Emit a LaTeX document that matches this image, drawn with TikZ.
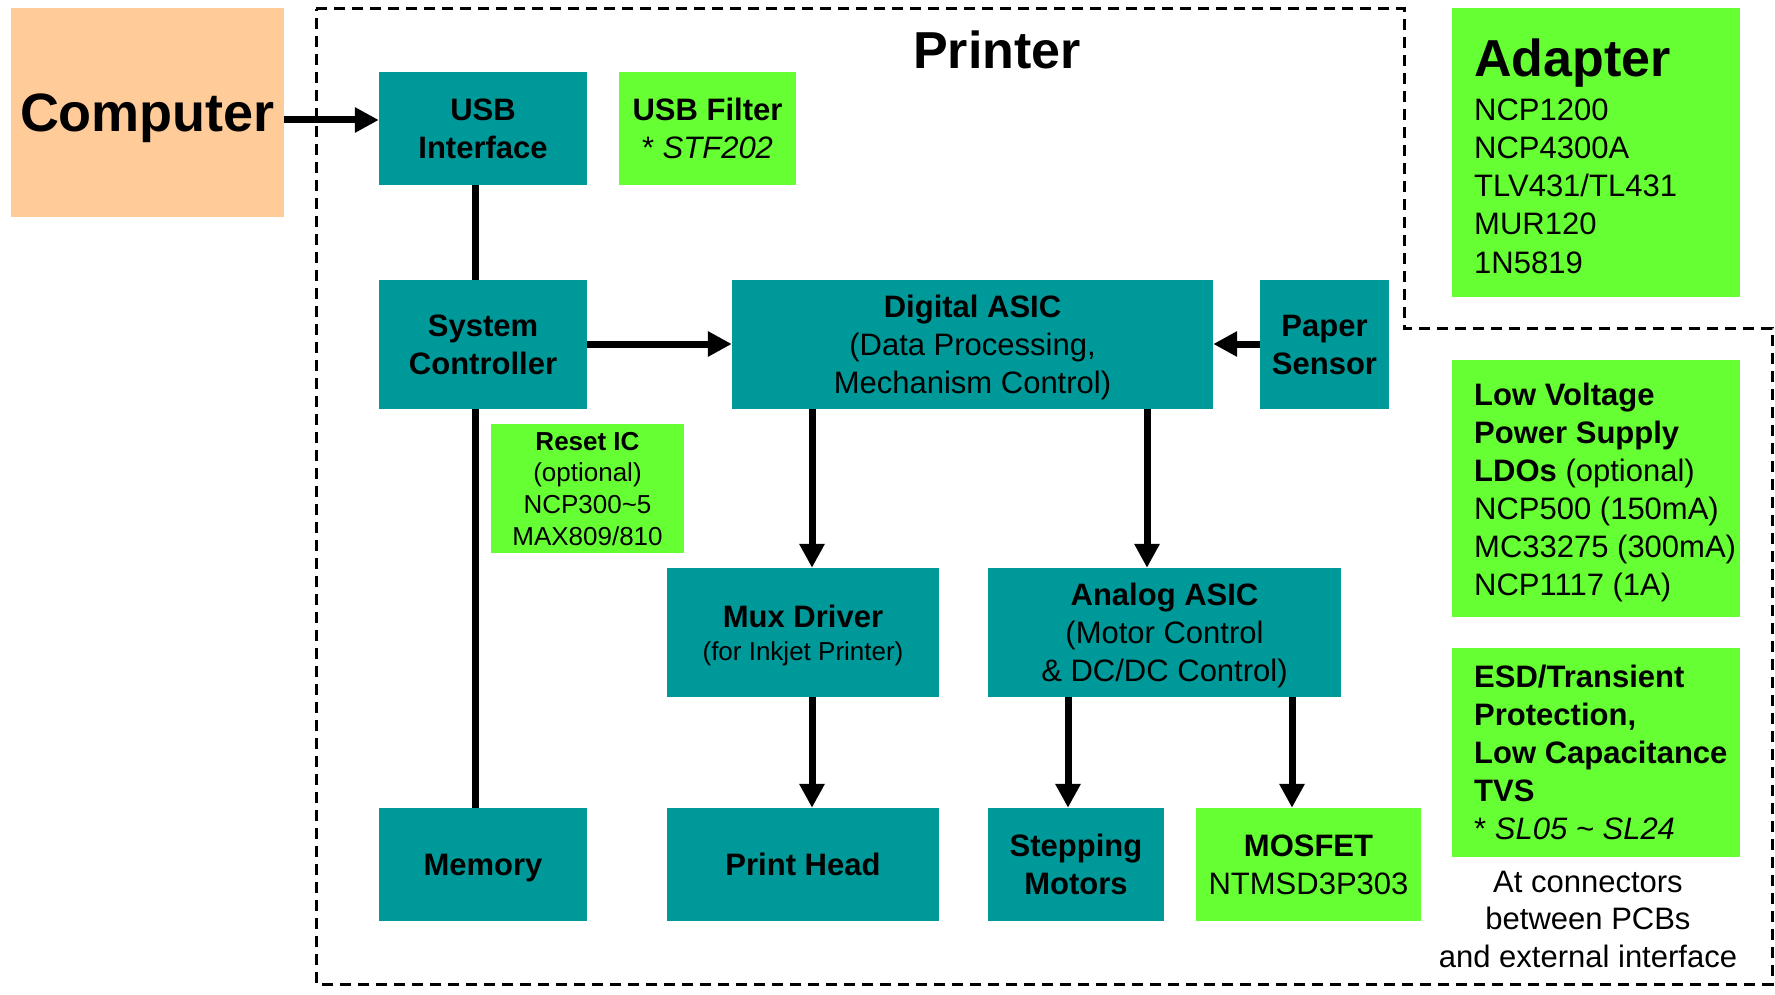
\documentclass[tikz,border=0pt]{standalone}
\usepackage{fontspec}
\setmainfont{Liberation Sans}
\usetikzlibrary{arrows.meta}
\definecolor{tealc}{HTML}{009999}
\definecolor{greenc}{HTML}{66FF33}
\definecolor{peachc}{HTML}{FFCC99}
\newcommand{\myfs}[2]{\fontsize{#1}{#2}\selectfont}
\tikzset{
  tealbox/.style={fill=tealc, draw=none, inner sep=0pt, align=center, text depth=0pt, font=\myfs{31}{38}},
  greenbox/.style={fill=greenc, draw=none, inner sep=0pt, align=center, text depth=0pt, font=\myfs{31}{38}},
  peachbox/.style={fill=peachc, draw=none, inner sep=0pt, align=center, text depth=0pt},
  conn/.style={line width=7pt},
  arr/.style={line width=7pt, -{Triangle[length=24pt,width=24pt]}},
  frame/.style={line width=3pt, dash pattern=on 11pt off 7pt},
  lefttext/.style={anchor=base west, align=left, inner sep=0pt, font=\myfs{31}{38}},
}
\begin{document}
\begin{tikzpicture}[x=1pt,y=-1pt]
\useasboundingbox (0,0) rectangle (1775,995);

% printer frame
\draw[frame] (316,9) -- (1404,9) -- (1404,328) -- (1772,328) -- (1772,984) -- (316,984) -- cycle;

% boxes
\node[peachbox, minimum width=273pt, minimum height=209pt, font=\myfs{54}{60}\bfseries] (comp) at (147.5,112.5) {Computer};
\node[tealbox, minimum width=208pt, minimum height=113pt] (usb) at (483,128.5) {\textbf{USB}\\\textbf{Interface}};
\node[greenbox, minimum width=177pt, minimum height=113pt] (filt) at (707.5,128.5) {\textbf{USB Filter}\\* \textit{STF202}};
\node[tealbox, minimum width=208pt, minimum height=129pt] (sys) at (483,344.5) {\textbf{System}\\\textbf{Controller}};
\node[tealbox, minimum width=481pt, minimum height=129pt] (dig) at (972.5,344.5) {\textbf{Digital ASIC}\\(Data Processing,\\Mechanism Control)};
\node[tealbox, minimum width=129pt, minimum height=129pt] (paper) at (1324.5,344.5) {\textbf{Paper}\\\textbf{Sensor}};
\node[greenbox, minimum width=193pt, minimum height=129pt, font=\myfs{26}{31.7}] (reset) at (587.5,488.5) {\textbf{Reset IC}\\(optional)\\NCP300\textasciitilde5\\MAX809/810};
\node[tealbox, minimum width=272pt, minimum height=129pt] (mux) at (803,632.5) {\textbf{Mux Driver}\\[-5pt]\myfs{26}{33}(for Inkjet Printer)};
\node[tealbox, minimum width=353pt, minimum height=129pt] (ana) at (1164.5,632.5) {\textbf{Analog ASIC}\\(Motor Control\\\& DC/DC Control)};
\node[tealbox, minimum width=208pt, minimum height=113pt] (mem) at (483,864.5) {\textbf{Memory}};
\node[tealbox, minimum width=272pt, minimum height=113pt] (head) at (803,864.5) {\textbf{Print Head}};
\node[tealbox, minimum width=176pt, minimum height=113pt] (step) at (1076,864.5) {\textbf{Stepping}\\\textbf{Motors}};
\node[greenbox, minimum width=225pt, minimum height=113pt] (mos) at (1308.5,864.5) {\textbf{MOSFET}\\NTMSD3P303};
\node[greenbox, minimum width=288pt, minimum height=289pt] (adp) at (1596,152.5) {};
\node[greenbox, minimum width=288pt, minimum height=257pt] (lv) at (1596,488.5) {};
\node[greenbox, minimum width=288pt, minimum height=209pt] (esd) at (1596,752.5) {};

% texts (base anchor = baseline of last line)
\node[anchor=base, inner sep=0pt, font=\myfs{52}{60}\bfseries] (ttl) at (997,69) {Printer};
\node[anchor=base west, inner sep=0pt, font=\myfs{52}{60}\bfseries] (adpt) at (1474,77) {Adapter};
\node[lefttext, font=\myfs{31}{38.3}] (adpl) at (1474,273.2) {NCP1200\\NCP4300A\\TLV431/TL431\\MUR120\\1N5819};
\node[lefttext] (lvt) at (1474,595) {\textbf{Low Voltage}\\\textbf{Power Supply}\\\textbf{LDOs} (optional)\\NCP500 (150mA)\\MC33275 (300mA)\\NCP1117 (1A)};
\node[lefttext] (esdt) at (1474,839) {\textbf{ESD/Transient}\\\textbf{Protection,}\\\textbf{Low Capacitance}\\\textbf{TVS}\\* \textit{SL05 \textasciitilde{} SL24}};
\node[anchor=base, align=center, inner sep=0pt, font=\myfs{31}{37.5}] (atc) at (1588,967) {At connectors\\between PCBs\\and external interface};

% connector coordinates
\coordinate (cA) at (475,0);
\coordinate (cB) at (812,0);
\coordinate (cC) at (1147,0);
\coordinate (cD) at (1068,0);
\coordinate (cE) at (1292,0);
\coordinate (rA) at (0,120);
\coordinate (rB) at (0,344);

% connectors
\draw[arr] (comp.east |- rA) -- (usb.west |- rA);
\draw[conn] (usb.south -| cA) -- (sys.north -| cA);
\draw[conn] (sys.south -| cA) -- (mem.north -| cA);
\draw[arr] (sys.east |- rB) -- (dig.west |- rB);
\draw[arr] (paper.west |- rB) -- (dig.east |- rB);
\draw[arr] (dig.south -| cB) -- (mux.north -| cB);
\draw[arr] (dig.south -| cC) -- (ana.north -| cC);
\draw[arr] (mux.south -| cB) -- (head.north -| cB);
\draw[arr] (ana.south -| cD) -- (step.north -| cD);
\draw[arr] (ana.south -| cE) -- (mos.north -| cE);
\end{tikzpicture}
\end{document}
